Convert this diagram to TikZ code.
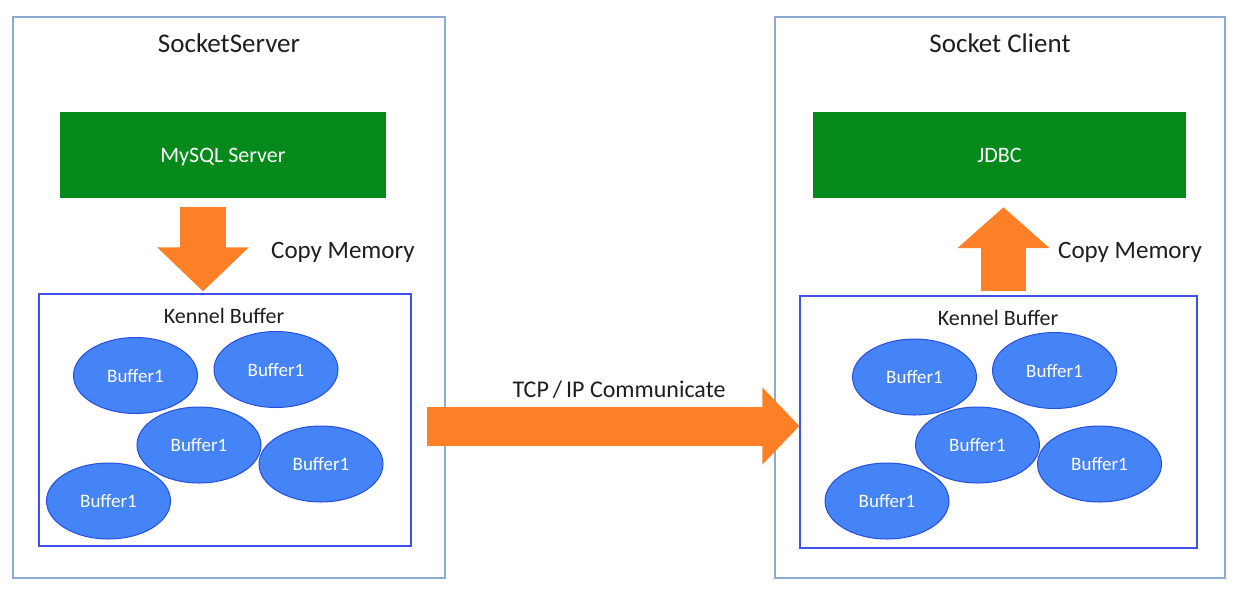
\documentclass[tikz,border=0pt]{standalone}
\usepackage{fontspec}
\setmainfont{Carlito}
\usetikzlibrary{arrows.meta,shapes.geometric}
\definecolor{boxline}{RGB}{140,170,212}
\definecolor{kernline}{RGB}{62,82,232}
\definecolor{appgreen}{RGB}{3,138,27}
\definecolor{copyorange}{RGB}{253,127,38}
\definecolor{bufblue}{RGB}{68,132,246}
\definecolor{bufline}{RGB}{40,78,222}
\definecolor{txt}{RGB}{30,30,30}
\begin{document}
\begin{tikzpicture}[x=1pt,y=-1pt,
  hostbox/.style={draw=boxline,line width=1.3pt,minimum width=432pt,minimum height=561pt,inner sep=0pt},
  appbox/.style={fill=appgreen,text=white,minimum height=86pt,inner sep=0pt,text depth=0pt,font=\fontsize{22}{24}\selectfont},
  kernbox/.style={draw=kernline,line width=1.3pt,minimum height=252pt,inner sep=0pt},
  buf/.style={ellipse,draw=bufline,line width=1pt,fill=bufblue,text=white,minimum width=124pt,minimum height=76pt,inner sep=0pt,text depth=0pt,font=\fontsize{19}{21}\selectfont},
  copyarrow/.style={copyorange,line width=46pt,-{Triangle[width=89pt,length=44pt]}},
  lbl/.style={text=txt,inner sep=0pt,text depth=0pt}]
\useasboundingbox (0,0) rectangle (1240,590);
% server side
\node[hostbox] (srvbox) at (229,297.5) {};
\node[lbl,font=\fontsize{27}{30}\selectfont] (srvtitle) at (229,43) {SocketServer};
\node[appbox,minimum width=326pt] (mysql) at (223,155) {MySQL Server};
\node[kernbox,minimum width=372pt] (kbL) at (225,420) {};
\node[lbl,font=\fontsize{22}{24}\selectfont] (kbLtitle) at (224,316) {Kennel Buffer};
\node[buf] (bL1) at (135.5,375.5) {Buffer1};
\node[buf] (bL2) at (276,369.5) {Buffer1};
\node[buf] (bL3) at (199,445) {Buffer1};
\node[buf] (bL4) at (321,464) {Buffer1};
\node[buf] (bL5) at (108.5,501) {Buffer1};
\draw[copyarrow] ([xshift=-20pt,yshift=-9pt]mysql.south) -- ([xshift=-22pt,yshift=2pt]kbL.north);
\node[lbl,font=\fontsize{25}{27}\selectfont] (copyL) at (343,250) {Copy Memory};
% client side
\node[hostbox,minimum width=450pt] (clibox) at (1000,297.5) {};
\node[lbl,font=\fontsize{27}{30}\selectfont] (clititle) at (1000,43) {Socket Client};
\node[appbox,minimum width=373pt] (jdbc) at (999.5,155) {JDBC};
\node[kernbox,minimum width=397pt] (kbR) at (998.5,422) {};
\node[lbl,font=\fontsize{22}{24}\selectfont] (kbRtitle) at (998,318) {Kennel Buffer};
\node[buf] (bR1) at (914.5,377) {Buffer1};
\node[buf] (bR2) at (1054.5,370.5) {Buffer1};
\node[buf] (bR3) at (977.5,445) {Buffer1};
\node[buf] (bR4) at (1099.5,464) {Buffer1};
\node[buf] (bR5) at (887,501) {Buffer1};
\draw[copyarrow,line width=45pt,-{Triangle[width=90pt,length=41pt]}] ([xshift=5pt,yshift=4pt]kbR.north) -- ([xshift=4pt,yshift=-9pt]jdbc.south);
\node[lbl,font=\fontsize{25}{27}\selectfont] (copyR) at (1130,250) {Copy Memory};
% network
\coordinate (tcpend) at ([yshift=-4pt]kbR.west);
\coordinate (tcpstart) at (srvbox.east |- tcpend);
\draw[copyarrow,line width=39pt,-{Triangle[width=75pt,length=37pt]}] ([xshift=-19pt]tcpstart) -- (tcpend);
\node[lbl,font=\fontsize{24}{26}\selectfont] (tcplbl) at (619,389) {TCP\,/\,IP Communicate};
\end{tikzpicture}
\end{document}
